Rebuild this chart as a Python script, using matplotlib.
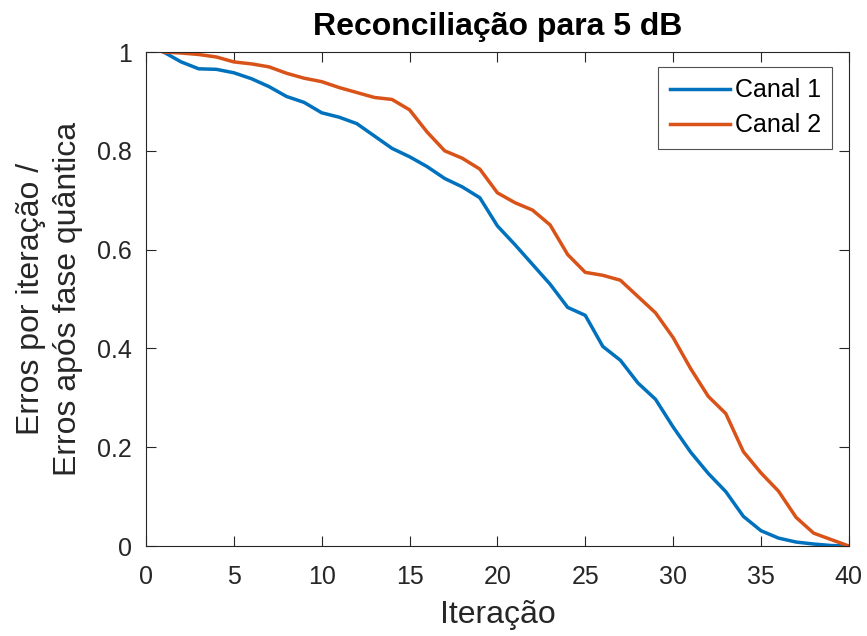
import matplotlib
matplotlib.use("Agg")
import matplotlib.pyplot as plt
import numpy as np

iteracao = np.arange(1, 41)

canal_1 = [1.0, 0.98, 0.966, 0.965, 0.958, 0.946, 0.93, 0.91, 0.898, 0.877,
           0.868, 0.855, 0.83, 0.805, 0.788, 0.768, 0.744, 0.727, 0.705, 0.648,
           0.61, 0.57, 0.53, 0.483, 0.467, 0.404, 0.376, 0.33, 0.297, 0.241,
           0.19, 0.147, 0.11, 0.06, 0.031, 0.016, 0.008, 0.004, 0.001, 0.0]

canal_2 = [1.0, 0.998, 0.995, 0.99, 0.98, 0.976, 0.97, 0.957, 0.947, 0.94,
           0.928, 0.918, 0.908, 0.904, 0.883, 0.838, 0.8, 0.785, 0.763, 0.715,
           0.695, 0.68, 0.65, 0.59, 0.554, 0.548, 0.538, 0.505, 0.472, 0.422,
           0.359, 0.303, 0.268, 0.191, 0.148, 0.111, 0.058, 0.026, 0.013, 0.0]

plt.rcParams['font.family'] = ['Liberation Sans', 'DejaVu Sans']

fig = plt.figure(figsize=(8.67, 6.36), dpi=100)
ax = fig.add_axes([0.1684, 0.1415, 0.8106, 0.7767])

ax.plot(iteracao, canal_1, color='#0072BD', lw=2.5, label='Canal 1')
ax.plot(iteracao, canal_2, color='#D95319', lw=2.5, label='Canal 2')

ax.set_xlim(0, 40)
ax.set_ylim(0, 1)
ax.set_xticks(range(0, 41, 5))
ax.set_yticks([0, 0.2, 0.4, 0.6, 0.8, 1])
ax.set_yticklabels(['0', '0.2', '0.4', '0.6', '0.8', '1'])
ax.tick_params(direction='in', top=True, right=True, labelsize=18,
               length=7, width=0.8, color='#262626', labelcolor='#262626')
ax.tick_params(axis='x', pad=14)
ax.tick_params(axis='y', pad=10)
for s in ax.spines.values():
    s.set_color('#262626')
    s.set_linewidth(0.8)

ax.set_xlabel('Iteração', fontsize=23, color='#262626')
ax.set_ylabel('Erros por iteração /\nErros após fase quântica', fontsize=23,
              color='#262626', linespacing=1.3)
ax.xaxis.set_label_coords(0.5, -0.11)
ax.yaxis.set_label_coords(-0.09, 0.5)
ax.set_title('Reconciliação para 5 dB', fontsize=23, fontweight='bold', pad=12)

leg = ax.legend(loc='upper right', bbox_to_anchor=(832 / 867, 1 - 67 / 636),
                bbox_transform=fig.transFigure, borderaxespad=0,
                fontsize=18, frameon=True, fancybox=False,
                handlelength=2.4, handletextpad=0.2, borderpad=0.45,
                labelspacing=0.45)
leg.get_frame().set_edgecolor('#262626')
leg.get_frame().set_linewidth(0.8)

fig.savefig('out.png', dpi=100)
